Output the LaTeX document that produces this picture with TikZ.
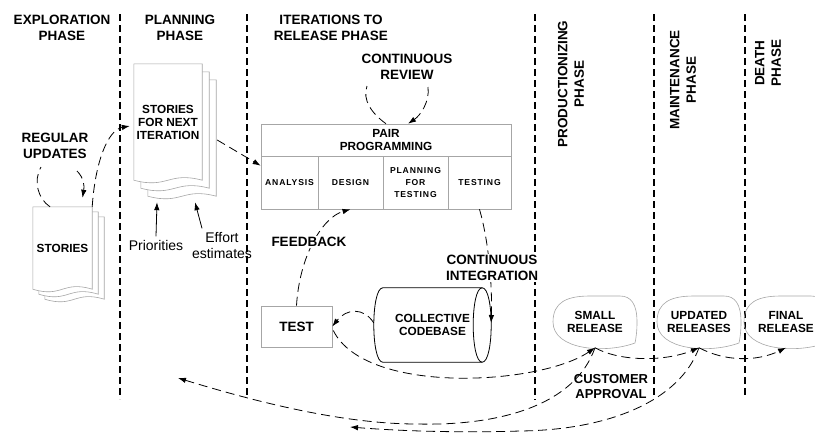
\documentclass[tikz,border=0pt]{standalone}
\usepackage{fontspec}
\setmainfont{Liberation Sans}
\newfontfamily\cellfont[LetterSpace=10]{Liberation Sans}
\usepackage{tikz}
\usetikzlibrary{arrows.meta, backgrounds}

\newcommand{\headsize}{\fontsize{13.5}{16.5}\selectfont\bfseries}
\newcommand{\boxsize}{\fontsize{11.8}{13}\selectfont\bfseries}
\newcommand{\cellsize}{\cellfont\fontsize{8.6}{12}\selectfont\bfseries}
\newcommand{\notesize}{\fontsize{14}{16}\selectfont}

% pile of story pages behind a node: node, half width, x step, y step
\newcommand{\storypages}[4]{
	\foreach \k in {2,1,0}{
		\filldraw[pageline] ([shift={(\k*#3,\k*#4)}]#1.south west) -- ([shift={(\k*#3,\k*#4)}]#1.north west) -- ([shift={(\k*#3,\k*#4)}]#1.north east) -- ([shift={(\k*#3,\k*#4)}]#1.south east) .. controls +(-#2,-9) and +(#2,9) .. ([shift={(\k*#3,\k*#4)}]#1.south west) -- cycle;
	}
}

% release bubble round a node
\newcommand{\releasebubble}[1]{
	\draw[boxline] ([shift={(40,21)}]#1.center) .. controls ([shift={(10,32)}]#1.center) and ([shift={(-42,28)}]#1.center) .. ([shift={(-42,0)}]#1.center) .. controls ([shift={(-42,-20)}]#1.center) and ([shift={(-28,-26)}]#1.center) .. ([shift={(-5,-26)}]#1.center) -- ([shift={(25,-26)}]#1.center) .. controls ([shift={(36,-26)}]#1.center) and ([shift={(42,-18)}]#1.center) .. ([shift={(42,0)}]#1.center) .. controls ([shift={(42,10)}]#1.center) and ([shift={(41,16)}]#1.center) .. ([shift={(40,21)}]#1.center) -- cycle;
}

\tikzset{
	divider/.style={draw=black, line width=1.2pt, dash pattern=on 7pt off 4pt},
	flowline/.style={draw=black, line width=0.8pt, dash pattern=on 9pt off 5pt},
	tipped/.style={-{Latex[length=8pt,width=5.5pt]}},
	pageline/.style={draw=gray!70, fill=white, line width=0.6pt},
	boxline/.style={draw=gray!70, line width=0.6pt},
	cellbox/.style={draw=gray!70, line width=0.6pt, align=center, inner sep=0pt, minimum height=53pt},
	phasetext/.style={align=center, font=\headsize},
}

\begin{document}
\begin{tikzpicture}[x=1pt, y=-1pt]

	\useasboundingbox (0,0) rectangle (815,432);
	\clip (0,0) rectangle (815,432);

	% Phases
	\foreach \px/\pb in {120/399, 247/397, 535/400, 654/397, 745/397}
		\draw[divider] (\px,14) -- (\px,\pb);

	\node[phasetext] (exphead) at (62,28) {EXPLORATION\\PHASE};
	\node[phasetext] (planhead) at (180,28) {PLANNING\\PHASE};
	\node[phasetext] (iterhead) at (331,28) {ITERATIONS TO\\RELEASE PHASE};
	\node[phasetext, rotate=90] (prodhead) at (571,84) {PRODUCTIONIZING\\PHASE};
	\node[phasetext, rotate=90] (mainhead) at (683,80) {MAINTENANCE\\PHASE};
	\node[phasetext, rotate=90] (deathhead) at (768,63) {DEATH\\PHASE};

	% Stories
	\node[align=center, font=\boxsize, minimum width=59pt, minimum height=82pt, inner sep=0pt] (stories) at (62.5,248) {STORIES};
	\node[align=center, font=\boxsize, minimum width=68pt, minimum height=116pt, inner sep=0pt] (nextstories) at (168,122) {STORIES\\FOR NEXT\\ITERATION};
	\begin{pgfonlayer}{background}
		\storypages{stories}{29.5}{6}{5}
		\storypages{nextstories}{34}{7}{8}
	\end{pgfonlayer}

	% Pair programming
	\node[cellbox, font=\boxsize, minimum width=250pt, minimum height=32pt] (pair) at (386,140) {PAIR\\PROGRAMMING};
	\node[cellbox, font=\cellsize, minimum width=57pt] (analysis) at (289.5,182.5) {ANALYSIS};
	\node[cellbox, font=\cellsize, minimum width=65pt] (design) at (350.5,182.5) {DESIGN};
	\node[cellbox, font=\cellsize, minimum width=65pt] (plantest) at (415.5,182.5) {PLANNING\\FOR\\TESTING};
	\node[cellbox, font=\cellsize, minimum width=63pt] (testing) at (479.5,182.5) {TESTING};

	% Test and codebase
	\node[cellbox, font=\headsize, minimum width=71pt, minimum height=41pt] (test) at (296.5,326.5) {TEST};
	\node[align=center, font=\boxsize, minimum width=99pt, minimum height=74pt, inner sep=0pt] (codebase) at (432.5,325) {COLLECTIVE\\CODEBASE};
	\draw[line width=0.8pt] (codebase.north west) -- (codebase.north east) .. controls +(12,0) and +(12,0) .. (codebase.south east) -- (codebase.south west) .. controls +(-12,0) and +(-12,0) .. (codebase.north west) -- cycle;
	\draw[line width=0.8pt] (codebase.north east) .. controls +(-12,0) and +(-12,0) .. (codebase.south east);

	% Releases
	\node[align=center, font=\boxsize, minimum width=84pt, minimum height=51pt, inner sep=0pt] (small) at (595,322) {SMALL\\RELEASE};
	\node[align=center, font=\boxsize, minimum width=84pt, minimum height=51pt, inner sep=0pt] (updated) at (699,322) {UPDATED\\RELEASES};
	\node[align=center, font=\boxsize, minimum width=84pt, minimum height=51pt, inner sep=0pt] (final) at (786,322) {FINAL\\RELEASE};
	\releasebubble{small}
	\releasebubble{updated}
	\releasebubble{final}

	% Labels
	\node[phasetext] (regular) at (55,146) {REGULAR\\UPDATES};
	\node[phasetext] (review) at (407,67) {CONTINUOUS\\REVIEW};
	\node[align=center, font=\notesize] (prio) at (156,245) {Priorities};
	\node[align=center, font=\notesize] (effort) at (222,245) {Effort\\estimates};

	% Loops
	\coordinate (ru1) at (41,167);
	\coordinate (ru2) at (77,171);
	\draw[flowline] ([shift={(-12.5,0)}]stories.north) .. controls +(-12,-8) and +(-8,14) .. (ru1);
	\draw[flowline, tipped] (ru2) .. controls +(7,7) and +(2,-12) .. ([shift={(20,-9)}]stories.north);

	\coordinate (cr1) at (367,86);
	\coordinate (cr2) at (428,87);
	\draw[flowline] (pair.north) .. controls +(-14,-10) and +(-5,14) .. (cr1);
	\draw[flowline, tipped] (cr2) .. controls +(2,15) and +(12,-8) .. ([shift={(22,0)}]pair.north);

	% Flow
	\draw[flowline, tipped] (stories.north east) .. controls +(3,-45) and +(-22,4) .. ([shift={(-4,4)}]nextstories.west);
	\draw[flowline, tipped] ([shift={(15,18)}]nextstories.east) -- ([shift={(0,10)}]analysis.north west);
	\draw[line width=0.8pt, tipped] (prio.north) -- ([shift={(-11,22)}]nextstories.south);
	\draw[line width=0.8pt, tipped] ([shift={(-20,0)}]effort.north) -- ([shift={(27,22)}]nextstories.south);

	\draw[flowline, tipped] (test.north) .. controls +(3,-50) and +(-28,8) .. (design.south);
	\node[phasetext, fill=white, inner sep=1pt] (feedback) at (309,242) {FEEDBACK};

	\draw[flowline, tipped] (testing.south) .. controls +(10,35) and +(1,-35) .. ([shift={(9,-2)}]codebase.east);
	\node[phasetext, fill=white, inner sep=1pt] (integration) at (492,268) {CONTINUOUS\\INTEGRATION};

	\draw[flowline, tipped] ([shift={(-9,-2)}]codebase.west) .. controls +(-10,-16) and +(14,-18) .. (test.east);
	\draw[flowline, tipped] ([shift={(1,4)}]test.east) .. controls +(32,65) and +(-55,37.5) .. (small.south);
	\draw[flowline, tipped] (small.south) .. controls +(25,14) and +(-34,14) .. (updated.south);
	\draw[flowline, tipped] (updated.south) .. controls +(26,14) and +(-29,14) .. (final.south);

	% Customer approval
	\coordinate (ap1) at (417,424);
	\coordinate (ap1end) at (178,378);
	\coordinate (ap2) at (520,431);
	\coordinate (ap2end) at (350,427);
	\draw[flowline, tipped] (small.south) .. controls +(-20,57.5) and +(83,2) .. (ap1) .. controls +(-77,0) and +(72,22) .. (ap1end);
	\draw[flowline, tipped] (updated.south) .. controls +(-19,52.5) and +(90,-1) .. (ap2) .. controls +(-60,2) and +(50,4) .. (ap2end);
	\node[phasetext, font=\fontsize{13}{15}\selectfont\bfseries] (approval) at (611,387) {CUSTOMER\\APPROVAL};

\end{tikzpicture}
\end{document}
